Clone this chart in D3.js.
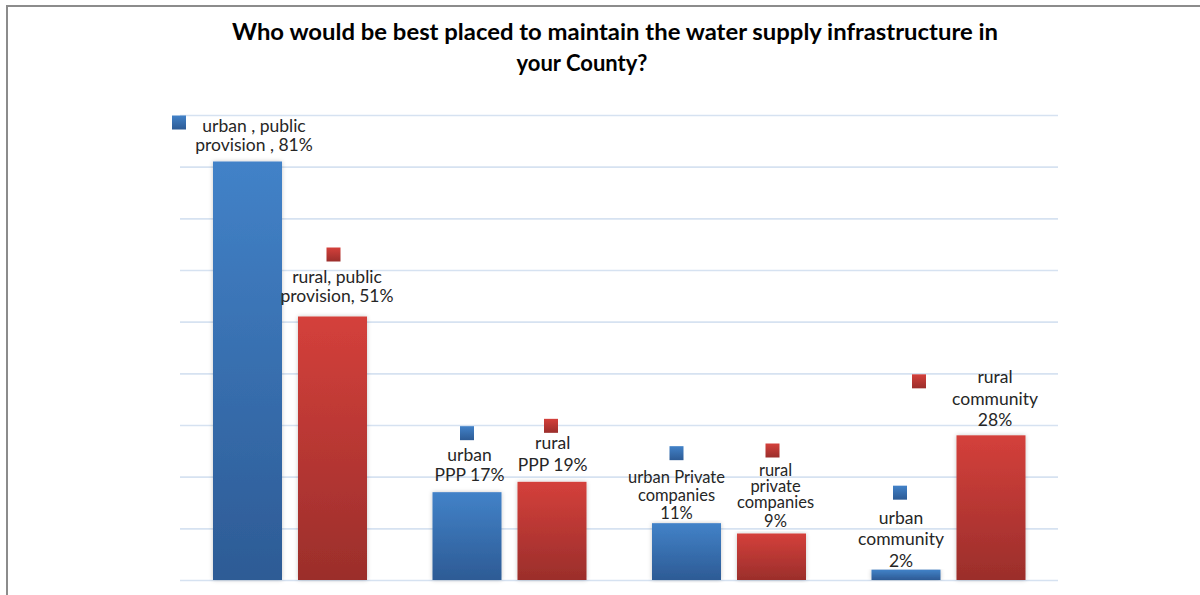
<!DOCTYPE html>
<html>
<head>
<meta charset="utf-8">
<script src="https://cdn.jsdelivr.net/npm/d3@7/dist/d3.min.js"></script>
<style>
  html, body { margin: 0; padding: 0; background: #fff; }
  svg { display: block; }
  .lbl { font-family: Lato, "Open Sans", sans-serif; font-size: 17.5px; fill: #262626; }
  .lbl.tight { font-size: 16.5px; }
  .title { font-family: Lato, "Open Sans", sans-serif; font-size: 22px; font-weight: 700; fill: #000; }
</style>
</head>
<body>
<svg id="chart" width="1200" height="595"></svg>
<script>
// Survey answers: who should maintain county water supply infrastructure
const categories = ["public provision", "PPP", "Private companies", "community"];
const seriesNames = ["urban", "rural"];
const urbanValues = [81, 17, 11, 2];
const ruralValues = [51, 19, 9, 28];
const yTicks = [0, 10, 20, 30, 40, 50, 60, 70, 80, 90];

// Label text per bar (urban first, then rural, per category)
const urbanLabels = [
  ["urban , public", "provision , 81%"],
  ["urban", "PPP 17%"],
  ["urban Private", "companies", "11%"],
  ["urban", "community", "2%"]
];
const ruralLabels = [
  ["rural,  public", "provision, 51%"],
  ["rural", "PPP 19%"],
  ["rural", "private", "companies", "9%"],
  ["rural", "community", "28%"]
];

// Label placement relative to the bar's centre / top:
// dx text centre, baselines of lines, marker offset (mx, my), tight = smaller type
const urbanLabelPos = [
  { dx: 6.5, base: [-30, -11], mx: -75.5, my: -46 },
  { dx: 2.5, base: [-31, -11], mx: -7, my: -66 },
  { dx: -10, base: [-40, -22, -4], mx: -17, my: -77, tight: true },
  { dx: -5, base: [-46, -25, -3], mx: -13, my: -84 }
];
const ruralLabelPos = [
  { dx: 4.5, base: [-34, -15], mx: -6, my: -69 },
  { dx: 0.7, base: [-33, -11], mx: -8, my: -63 },
  { dx: 4, base: [-58, -42, -26, -7], mx: -6, my: -90, tight: true },
  { dx: 4, base: [-52, -30, -9], mx: -79, my: -61 }
];

const svg = d3.select("#chart");
const W = 1200, H = 595;

// Outer frame (top and left edges visible)
svg.append("line").attr("x1", 7).attr("x2", W).attr("y1", 6).attr("y2", 6)
  .attr("stroke", "#8c8c8c").attr("stroke-width", 2);
svg.append("line").attr("x1", 7).attr("x2", 7).attr("y1", 5).attr("y2", H)
  .attr("stroke", "#8c8c8c").attr("stroke-width", 2);

const defs = svg.append("defs");
function grad(id, top, bottom) {
  const g = defs.append("linearGradient").attr("id", id)
    .attr("x1", 0).attr("y1", 0).attr("x2", 0).attr("y2", 1);
  g.append("stop").attr("offset", "0%").attr("stop-color", top);
  g.append("stop").attr("offset", "100%").attr("stop-color", bottom);
}
grad("g-urban", "#4282c8", "#2d5b95");
grad("g-rural", "#d4403b", "#9b2e2b");
const sh = defs.append("filter").attr("id", "shadow")
  .attr("x", "-20%").attr("y", "-5%").attr("width", "140%").attr("height", "110%");
sh.append("feDropShadow").attr("dx", 0).attr("dy", 0).attr("stdDeviation", 2.2)
  .attr("flood-color", "#000").attr("flood-opacity", 0.22);

const plot = { left: 180, right: 1058, top: 115, bottom: 580 };

const x0 = d3.scaleBand().domain(categories).range([plot.left, plot.right]).padding(0);
const x1 = d3.scaleBand().domain(seriesNames)
  .range([33, 33 + 69 * 2 + 16]).paddingInner(16 / 85).paddingOuter(0);
const y = d3.scaleLinear().domain([0, 90]).range([plot.bottom, plot.top]);

// Horizontal gridlines
const yAxis = d3.axisLeft(y).tickValues(yTicks).tickSize(-(plot.right - plot.left)).tickFormat("");
const ga = svg.append("g").attr("transform", `translate(${plot.left},0)`).call(yAxis);
ga.select(".domain").remove();
ga.selectAll(".tick line").attr("stroke", "#d6e2f1").attr("stroke-width", 1.6);

// Title (two lines)
const title = svg.append("g").attr("class", "title");
title.append("text").attr("text-anchor", "middle").attr("x", 615).attr("y", 40)
  .attr("textLength", 766).attr("lengthAdjust", "spacingAndGlyphs")
  .text("Who would be best placed to maintain the water supply infrastructure in");
title.append("text").attr("text-anchor", "middle").attr("x", 582).attr("y", 71)
  .text("your County?");

const seriesData = [
  { key: "urban", values: urbanValues, labels: urbanLabels, pos: urbanLabelPos, fill: "url(#g-urban)" },
  { key: "rural", values: ruralValues, labels: ruralLabels, pos: ruralLabelPos, fill: "url(#g-rural)" }
];

const bars = [];
seriesData.forEach(s => {
  s.values.forEach((v, i) => {
    bars.push({ series: s.key, cat: categories[i], value: v, lines: s.labels[i], pos: s.pos[i], fill: s.fill });
  });
});

svg.append("g").selectAll("rect").data(bars).join("rect")
  .attr("x", d => x0(d.cat) + x1(d.series))
  .attr("y", d => y(d.value))
  .attr("width", x1.bandwidth())
  .attr("height", d => y(0) - y(d.value))
  .attr("fill", d => d.fill)
  .attr("filter", "url(#shadow)");

// Data labels with series marker squares
const lg = svg.append("g");
bars.forEach(d => {
  const cx = x0(d.cat) + x1(d.series) + x1.bandwidth() / 2;
  const top = y(d.value);
  lg.append("rect")
    .attr("x", cx + d.pos.mx).attr("y", top + d.pos.my)
    .attr("width", 14).attr("height", 14)
    .attr("fill", d.fill);
  const t = lg.append("text").attr("class", d.pos.tight ? "lbl tight" : "lbl")
    .attr("text-anchor", "middle");
  d.lines.forEach((ln, k) => {
    t.append("tspan").attr("x", cx + d.pos.dx).attr("y", top + d.pos.base[k]).text(ln);
  });
});
</script>
</body>
</html>
